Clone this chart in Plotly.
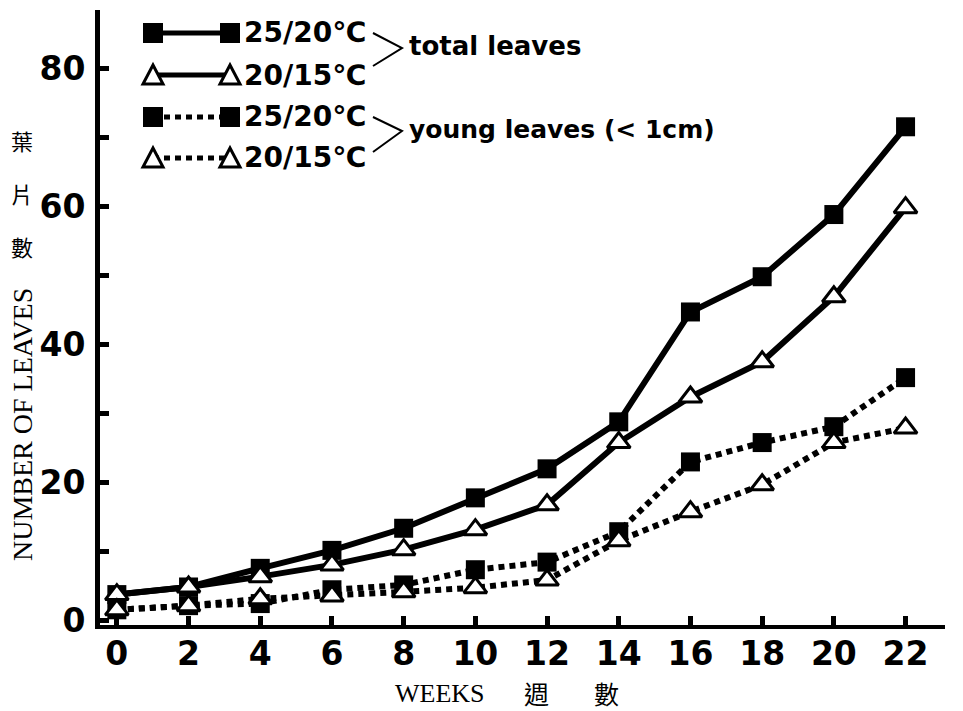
import plotly.graph_objects as go

# ---------------- data ----------------
weeks = [0, 2, 4, 6, 8, 10, 12, 14, 16, 18, 20, 22]
total_25_20 = [3.8, 4.9, 7.6, 10.2, 13.4, 17.8, 22.0, 28.8, 44.7, 49.8, 58.8, 71.5]
total_20_15 = [3.8, 4.9, 6.4, 8.1, 10.3, 13.2, 16.8, 25.8, 32.4, 37.5, 46.9, 59.8]
young_25_20 = [1.6, 2.2, 2.5, 4.5, 5.2, 7.4, 8.5, 12.9, 23.0, 25.8, 28.1, 35.2]
young_20_15 = [1.6, 2.2, 3.2, 3.6, 4.2, 4.8, 5.9, 11.6, 15.8, 19.7, 25.8, 27.9]
y_tickvals = [0, 20, 40, 60, 80]
x_tickvals = weeks
legend_labels = ["25/20℃", "20/15℃", "25/20℃", "20/15℃"]
group_labels = ["total leaves", "young leaves (< 1cm)"]
y_title_cjk = ["葉", "片", "數"]
x_title_cjk = ["週", "數"]

W, H = 963, 711
L, R, T, B = 100, 18, 10, 86
PW, PH = W - L - R, H - T - B


def px(x):
    return (x - L) / PW


def py(y):
    return (H - B - y) / PH


fig = go.Figure()
series = [
    (total_25_20, "square", "black", "solid", 6),
    (total_20_15, "triangle-up", "white", "solid", 6),
    (young_25_20, "square", "black", "6px,5px", 6),
    (young_20_15, "triangle-up", "white", "6px,5px", 6),
]
names = ["total 25/20℃", "total 20/15℃", "young 25/20℃", "young 20/15℃"]
for (vals, sym, fill, dash, lw), nm in zip(series, names):
    fig.add_trace(go.Scatter(
        x=weeks, y=vals, mode="lines+markers", name=nm,
        line=dict(color="black", width=lw, dash=dash),
        marker=dict(symbol=sym, size=19 if sym == "square" else 20, color=fill,
                    line=dict(color="black", width=0 if sym == "square" else 3)),
        showlegend=False, cliponaxis=False,
    ))

tickfont = dict(family="DejaVu Sans", size=33, color="black", weight="bold")
fig.update_layout(
    width=W, height=H,
    margin=dict(l=L, r=R, t=T, b=B),
    paper_bgcolor="white", plot_bgcolor="white",
    xaxis=dict(range=[-0.47, 23.1], tickvals=x_tickvals, ticks="inside",
               ticklen=9, tickwidth=5, tickcolor="black",
               showline=True, linecolor="black", linewidth=4,
               showgrid=False, zeroline=False, tickfont=tickfont,
               ticklabelstandoff=-4),
    yaxis=dict(range=[-0.6, 88.4], tickvals=y_tickvals, ticks="inside",
               ticklen=9, tickwidth=5, tickcolor="black",
               minor=dict(dtick=10, ticks="inside", ticklen=9, tickwidth=5, tickcolor="black"),
               showline=True, linecolor="black", linewidth=5,
               showgrid=False, zeroline=False, tickfont=tickfont,
               ticklabelstandoff=3),
    font=dict(family="DejaVu Sans", color="black"),
)

shapes = []
anns = []
# custom legend
rows_y = [33, 75, 117, 158]
for i, (ry, (vals, sym, fill, dash, lw)) in enumerate(zip(rows_y, series)):
    x0, x1 = 153, 230
    shapes.append(dict(type="line", xref="paper", yref="paper",
                       x0=px(x0), x1=px(x1), y0=py(ry), y1=py(ry),
                       line=dict(color="black", width=5, dash="solid" if dash == "solid" else "6px,5px")))
    for cx in (x0, x1):
        if sym == "square":
            shapes.append(dict(type="rect", xref="paper", yref="paper",
                               x0=px(cx - 10), x1=px(cx + 10), y0=py(ry + 10), y1=py(ry - 10),
                               fillcolor="black", line=dict(width=0)))
        else:
            path = "M {} {} L {} {} L {} {} Z".format(px(cx - 10), py(ry + 9), px(cx + 10), py(ry + 9), px(cx), py(ry - 10))
            shapes.append(dict(type="path", xref="paper", yref="paper", path=path,
                               fillcolor="white", line=dict(color="black", width=3)))
    anns.append(dict(xref="paper", yref="paper", x=px(242), y=py(ry), xanchor="left", yanchor="middle",
                     text="<b>" + legend_labels[i] + "</b>", showarrow=False,
                     font=dict(family="DejaVu Sans", size=28, color="black")))

# braces
for top, mid, bot in [(33, 48, 66), (117, 131, 152)]:
    path = "M {} {} L {} {} L {} {}".format(px(373), py(top), px(402), py(mid), px(373), py(bot))
    shapes.append(dict(type="path", xref="paper", yref="paper", path=path,
                       line=dict(color="black", width=2)))
anns.append(dict(xref="paper", yref="paper", x=px(407), y=py(46), xanchor="left", yanchor="middle",
                 text="<b>" + group_labels[0] + "</b>", showarrow=False,
                 font=dict(family="DejaVu Sans", size=26, color="black")))
anns.append(dict(xref="paper", yref="paper", x=px(407), y=py(130), xanchor="left", yanchor="middle",
                 text="<b>" + group_labels[1] + "</b>", showarrow=False,
                 font=dict(family="DejaVu Sans", size=25, color="black")))

# axis titles
anns.append(dict(xref="paper", yref="paper", x=px(22), y=py(425), xanchor="center", yanchor="middle",
                 text="NUMBER OF LEAVES", textangle=-90, showarrow=False,
                 font=dict(family="Liberation Serif", size=28, color="black")))
for ch, yy in zip(y_title_cjk, [140, 193, 246]):
    anns.append(dict(xref="paper", yref="paper", x=px(22), y=py(yy), xanchor="center", yanchor="middle",
                     text=ch, showarrow=False,
                     font=dict(family="Noto Sans CJK TC", size=22, color="black")))
anns.append(dict(xref="paper", yref="paper", x=px(393), y=py(693), xanchor="left", yanchor="middle",
                 text="WEEKS", showarrow=False,
                 font=dict(family="Liberation Serif", size=26, color="black")))
for ch, xx in zip(x_title_cjk, [536, 606]):
    anns.append(dict(xref="paper", yref="paper", x=px(xx), y=py(693), xanchor="center", yanchor="middle",
                     text=ch, showarrow=False,
                     font=dict(family="Noto Sans CJK TC", size=25, color="black")))

fig.update_layout(shapes=shapes, annotations=anns)
fig.write_html("out.html")
